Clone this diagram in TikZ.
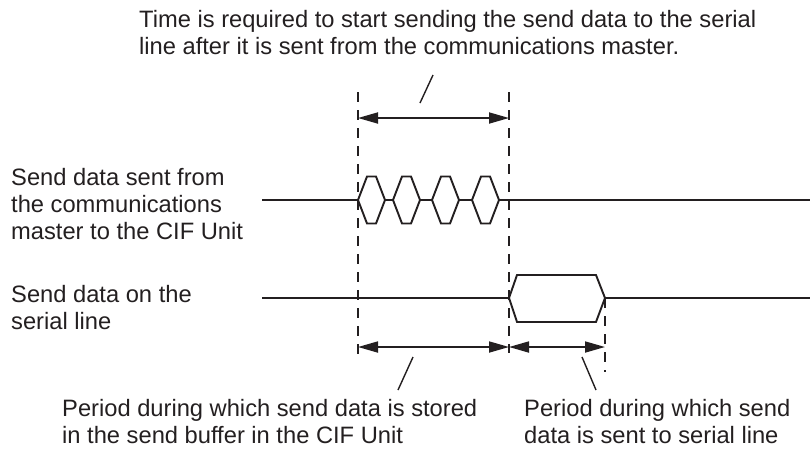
\documentclass[tikz,border=0pt]{standalone}
\usepackage{fontspec}
\setmainfont{Liberation Sans}
\usetikzlibrary{arrows.meta}
\definecolor{ink}{HTML}{231F20}
\begin{document}
\begin{tikzpicture}[x=1pt,y=-1pt,
  lbl/.style={inner sep=0pt, anchor=base west, align=left, font=\fontsize{23.7}{27}\selectfont, text=ink},
  sig/.style={line width=1.9pt, draw=ink, line join=miter},
  guide/.style={line width=1.7pt, draw=ink, dash pattern=on 10pt off 8pt},
  dim/.style={line width=1.8pt, draw=ink, {Triangle[length=20pt,width=11pt]}-{Triangle[length=20pt,width=11pt]}},
  leader/.style={line width=1.4pt, draw=ink}]
\useasboundingbox (0,0) rectangle (810,448);

% texts (base anchor = baseline of the last line)
\node[lbl] (top) at (139,54) {Time is required to start sending the send data to the serial\\line after it is sent from the communications master.};
\node[lbl] (lab1) at (11,239) {Send data sent from\\the communications\\master to the CIF Unit};
\node[lbl] (lab2) at (11,329) {Send data on the\\serial line};
\node[lbl] (bl) at (62,443) {Period during which send data is stored\\in the send buffer in the CIF Unit};
\node[lbl] (br) at (524,443) {Period during which send\\data is sent to serial line};

% guide lines
\coordinate (dA1) at (358,92);  \coordinate (dA2) at (358,356);
\coordinate (dB1) at (509,92);  \coordinate (dB2) at (509,353);
\coordinate (dC1) at (605,298); \coordinate (dC2) at (605,372);
\draw[guide] (dA1) -- (dA2);
\draw[guide] (dB1) -- (dB2);
\draw[guide] (dC1) -- (dC2);

% signal 1
\draw[sig] (262,200) -- (358,200);
\draw[sig] (385,200) -- (393,200);
\draw[sig] (420,200) -- (432,200);
\draw[sig] (459,200) -- (472,200);
\draw[sig] (499,200) -- (810,200);
\foreach \x in {358,393,432,472}{
  \draw[sig] (\x,200) -- ++(9,-23.5) -- ++(9,0) -- ++(9,23.5) -- ++(-9,23.5) -- ++(-9,0) -- cycle;
}

% signal 2
\draw[sig] (262,298) -- (509,298);
\draw[sig] (509,298) -- (517,275) -- (596,275) -- (605,298) -- (596,322) -- (517,322) -- cycle;
\draw[sig] (605,298) -- (810,298);

% dimension arrows
\coordinate (tA) at (358,118); \coordinate (tB) at (509,118);
\coordinate (bA) at (358,347); \coordinate (bB) at (509,347); \coordinate (bC) at (605,347);
\draw[dim] (tA) -- (tB);
\draw[dim] (bA) -- (bB);
\draw[dim] (bB) -- (bC);

% leaders
\coordinate (l1a) at (420,103); \coordinate (l1b) at (433,75);
\coordinate (l2a) at (413,357); \coordinate (l2b) at (398,390);
\coordinate (l3a) at (582,357); \coordinate (l3b) at (596,390);
\draw[leader] (l1a) -- (l1b);
\draw[leader] (l2a) -- (l2b);
\draw[leader] (l3a) -- (l3b);
\end{tikzpicture}
\end{document}
